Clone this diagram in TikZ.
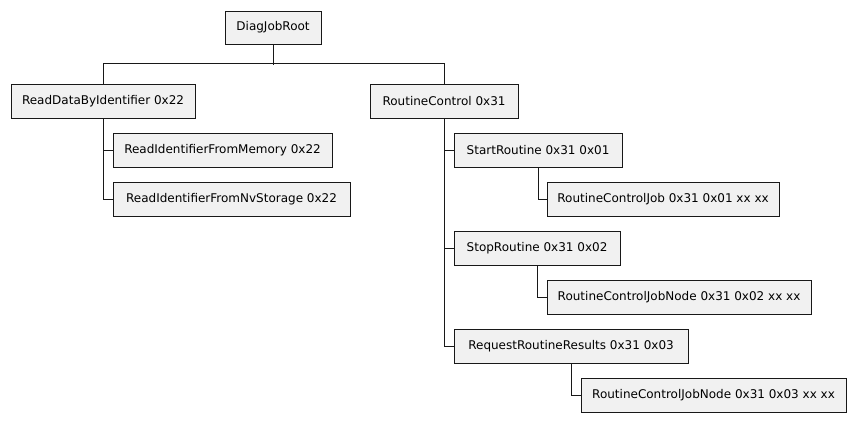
\documentclass[tikz,border=0pt]{standalone}
\usepackage{fontspec}
\setmainfont{DejaVu Sans}
\definecolor{boxfill}{HTML}{F1F1F1}
\definecolor{boxline}{HTML}{181818}
\tikzset{
  box/.style={draw=boxline, fill=boxfill, line width=1.1pt, anchor=north west,
    minimum height=34pt, inner sep=0pt, font=\fontsize{12pt}{14pt}\selectfont, text=black},
  link/.style={draw=boxline, line width=1.1pt}
}
\begin{document}
\begin{tikzpicture}[x=1pt,y=-1pt]
\useasboundingbox (0,0) rectangle (855,421);
\node[box, minimum width=96pt, minimum height=33pt] (root) at (224.5,10.5) {DiagJobRoot};
\node[box, minimum width=184pt] (rdbi) at (10.5,83.5) {ReadDataByIdentifier 0x22};
\node[box, minimum width=148pt] (rc) at (369.5,83.5) {RoutineControl 0x31};
\node[box, minimum width=219pt] (mem) at (112.5,132.5) {ReadIdentifierFromMemory 0x22};
\node[box, minimum width=237pt] (nv) at (112.5,181.5) {ReadIdentifierFromNvStorage 0x22};
\node[box, minimum width=168pt] (start) at (453.5,132.5) {StartRoutine 0x31 0x01};
\node[box, minimum width=232pt] (startjob) at (546.5,181.5) {RoutineControlJob 0x31 0x01 xx xx};
\node[box, minimum width=166pt] (stop) at (453.5,230.5) {StopRoutine 0x31 0x02};
\node[box, minimum width=264pt] (stopjob) at (546.5,279.5) {RoutineControlJobNode 0x31 0x02 xx xx};
\node[box, minimum width=234pt] (req) at (453.5,328.5) {RequestRoutineResults 0x31 0x03};
\node[box, minimum width=265pt] (reqjob) at (580.5,377.5) {RoutineControlJobNode 0x31 0x03 xx xx};
\draw[link] (root.south) -- ++(0,20);
\draw[link] (rdbi.north) -- ++(0,-20) -| (rc.north);
\draw[link] (rdbi.south) |- (mem.west);
\draw[link] (rdbi.south) |- (nv.west);
\draw[link] (rc.south) |- (start.west);
\draw[link] (rc.south) |- (stop.west);
\draw[link] (rc.south) |- (req.west);
\draw[link] (start.south) |- (startjob.west);
\draw[link] (stop.south) |- (stopjob.west);
\draw[link] (req.south) |- (reqjob.west);
\end{tikzpicture}
\end{document}
